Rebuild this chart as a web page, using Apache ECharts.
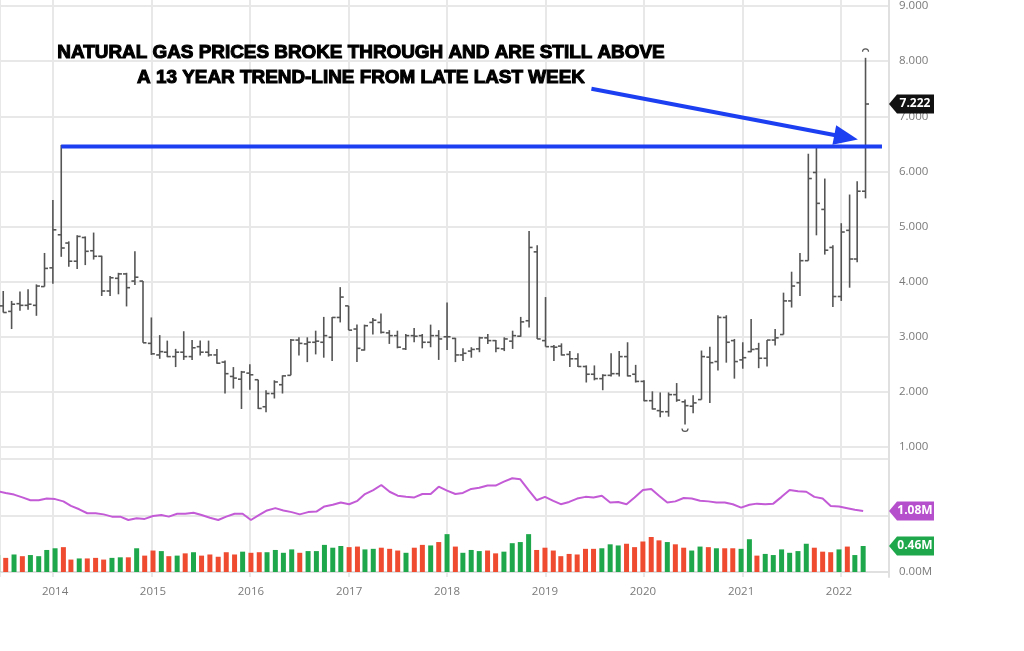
<!DOCTYPE html>
<html><head><meta charset="utf-8">
<script src="https://cdn.jsdelivr.net/npm/echarts@6/dist/echarts.min.js"></script>
<style>html,body{margin:0;padding:0;background:#fff}#c{width:1024px;height:651px}</style>
</head><body><div id="c"></div>
<script>
// ---- data (monthly, first month = June 2013) ----
const firstYear = 2013, firstMonthIndex = 5; // June
const open = [3.99,3.56,3.46,3.60,3.57,3.57,3.91,
 4.25,4.85,4.70,4.37,4.80,4.56,4.46,3.83,4.06,4.14,4.01,4.01,
 2.88,2.67,2.72,2.64,2.72,2.64,2.82,2.72,2.67,2.54,2.28,2.23,
 2.34,2.22,1.73,1.97,2.13,2.30,2.94,2.87,2.90,2.90,2.99,3.35,
 3.56,3.14,2.76,3.26,3.26,3.07,3.02,2.78,3.02,3.02,2.90,3.02,
 3.00,2.97,2.67,2.74,2.78,2.98,2.93,2.78,2.92,3.01,3.29,4.54,
 2.93,2.82,2.83,2.68,2.60,2.46,2.32,2.24,2.30,2.33,2.64,2.32,
 2.19,1.84,1.66,1.64,1.95,1.82,1.74,1.86,2.63,2.55,3.35,2.93,
 2.58,2.73,2.78,2.61,2.94,3.04,3.65,3.98,4.38,5.98,5.31,4.62,
 3.73,4.93,4.41,5.64];
const high = [4.05,3.83,3.65,3.82,3.86,3.95,4.52,
 5.48,6.48,4.73,4.84,4.82,4.89,4.47,4.10,4.16,4.16,4.55,4.01,
 3.35,3.03,2.93,2.78,3.10,2.94,2.93,2.93,2.78,2.57,2.45,2.38,
 2.50,2.22,2.03,2.21,2.30,2.96,2.99,2.99,3.11,3.36,3.36,3.90,
 3.56,3.22,3.22,3.34,3.42,3.12,3.11,3.05,3.16,3.05,3.22,3.12,
 3.62,2.98,2.79,2.81,3.00,3.05,2.94,2.99,3.11,3.36,4.92,4.66,
 3.72,2.85,2.88,2.74,2.70,2.48,2.48,2.32,2.70,2.74,2.90,2.49,
 2.21,2.01,1.99,1.99,2.16,1.86,1.94,2.75,2.82,3.39,3.39,2.96,
 2.90,3.32,2.89,2.94,3.14,3.80,4.18,4.52,6.32,6.47,5.87,4.66,
 5.06,5.58,5.82,8.06];
const low = [3.56,3.44,3.14,3.47,3.49,3.38,3.91,
 3.96,4.45,4.27,4.23,4.30,4.40,3.74,3.74,3.77,3.55,3.94,2.89,
 2.67,2.60,2.63,2.45,2.58,2.58,2.66,2.64,2.51,1.97,2.06,1.69,
 2.04,1.69,1.63,1.88,1.97,2.30,2.66,2.54,2.68,2.62,2.56,3.26,
 3.12,2.54,2.75,3.04,3.06,2.87,2.79,2.76,2.90,2.79,2.81,2.58,
 2.76,2.54,2.56,2.62,2.72,2.87,2.72,2.74,2.78,3.00,3.17,2.96,
 2.82,2.56,2.66,2.45,2.45,2.17,2.21,2.03,2.28,2.28,2.28,2.17,
 1.83,1.68,1.54,1.55,1.82,1.41,1.61,1.86,1.80,2.39,2.53,2.24,
 2.42,2.72,2.43,2.46,2.84,3.04,3.53,3.74,4.38,4.84,4.49,3.54,
 3.65,3.89,4.35,5.51];
const close = [3.57,3.44,3.59,3.57,3.59,3.92,4.24,
 4.94,4.61,4.37,4.82,4.55,4.46,3.83,4.07,4.14,3.89,4.08,2.89,
 2.69,2.73,2.64,2.72,2.64,2.80,2.72,2.67,2.52,2.33,2.25,2.36,
 2.31,1.70,1.97,2.18,2.29,2.94,2.88,2.90,2.92,3.02,3.35,3.72,
 3.12,2.79,3.20,3.30,3.08,3.02,2.81,3.02,3.01,2.90,3.02,2.96,
 3.00,2.67,2.70,2.77,2.98,2.93,2.79,2.96,3.02,3.27,4.62,2.96,
 2.82,2.81,2.67,2.60,2.46,2.32,2.24,2.30,2.33,2.64,2.29,2.19,
 1.84,1.69,1.64,1.95,1.85,1.75,1.80,2.64,2.53,3.35,2.90,2.55,
 2.62,2.77,2.61,2.94,2.98,3.65,3.92,4.38,5.87,5.42,4.57,3.73,
 4.90,4.41,5.64,7.222];
const volumeM = [0.30,0.25,0.31,0.28,0.30,0.28,0.39,
 0.42,0.44,0.22,0.24,0.24,0.25,0.22,0.25,0.26,0.26,0.42,0.29,
 0.38,0.37,0.28,0.29,0.33,0.35,0.29,0.31,0.27,0.35,0.31,0.36,
 0.34,0.35,0.35,0.39,0.34,0.40,0.34,0.37,0.37,0.48,0.43,0.46,
 0.44,0.45,0.40,0.41,0.43,0.41,0.38,0.34,0.43,0.48,0.47,0.53,
 0.67,0.45,0.34,0.39,0.37,0.38,0.33,0.36,0.51,0.53,0.67,0.39,
 0.43,0.38,0.28,0.32,0.31,0.41,0.41,0.42,0.49,0.47,0.50,0.44,
 0.54,0.62,0.56,0.53,0.49,0.43,0.38,0.45,0.44,0.42,0.42,0.42,
 0.41,0.58,0.29,0.32,0.30,0.40,0.34,0.37,0.50,0.43,0.36,0.35,
 0.40,0.45,0.30,0.46];
const openInterestM = [1.43,1.40,1.37,1.32,1.27,1.27,1.30,
 1.29,1.25,1.17,1.11,1.04,1.04,1.02,0.98,0.98,0.92,0.95,0.94,
 0.99,1.01,0.98,1.03,1.03,1.05,1.01,0.96,0.92,0.98,1.03,1.03,
 0.92,1.01,1.09,1.13,1.09,1.06,1.02,1.06,1.07,1.16,1.19,1.23,
 1.20,1.26,1.38,1.45,1.54,1.42,1.35,1.33,1.32,1.38,1.38,1.51,
 1.44,1.38,1.40,1.47,1.49,1.53,1.53,1.60,1.66,1.64,1.45,1.27,
 1.33,1.26,1.20,1.24,1.30,1.33,1.32,1.35,1.23,1.24,1.20,1.32,
 1.45,1.47,1.35,1.23,1.25,1.31,1.30,1.26,1.25,1.23,1.23,1.20,
 1.14,1.19,1.21,1.20,1.21,1.33,1.45,1.43,1.42,1.33,1.30,1.17,
 1.16,1.13,1.10,1.08];
const priceTicks = {min: 1, max: 9, step: 1};
const volumeTicks = {min: 0, max: 2, step: 1};
const trendLevel = 6.45;
const trendStart = [2014, 1, 1], trendEnd = [2022, 5, 1];
const arrowFrom = [[2019, 5, 20], 7.50], arrowTo = [[2022, 0, 19], 6.62];
const noteLines = ['NATURAL GAS PRICES BROKE THROUGH AND ARE STILL ABOVE', 'A 13 YEAR TREND-LINE FROM LATE LAST WEEK'];
const viewStart = [2013, 5, 19], viewEnd = [2022, 5, 27];

// ---- build ----
const d = a => new Date(a[0], a[1], a[2]).getTime();
const times = open.map((_, i) => new Date(firstYear, firstMonthIndex + i, 1).getTime());
const ohlc = times.map((t, i) => [t, open[i], high[i], low[i], close[i]]);
const GREEN = '#1ea84b', RED = '#ef4b31', PURPLE = '#c35bd6', BLUE = '#1d3ff2';
const vol = times.map((t, i) => ({value: [t, volumeM[i]], itemStyle: {color: (i === 0 || close[i] >= close[i-1]) ? GREEN : RED}}));
const oi = times.map((t, i) => [t, openInterestM[i]]);
let maxIdx = 0, minIdx = 0;
high.forEach((v, i) => { if (v > high[maxIdx]) maxIdx = i; });
low.forEach((v, i) => { if (v < low[minIdx]) minIdx = i; });

const xMin = d(viewStart), xMax = d(viewEnd);
const YEAR = 365.25 * 86400000;
const gridLine = {show: true, lineStyle: {color: '#e8e8e8', width: 2}};
const lblFont = {color: '#7a7a7a', fontFamily: 'Open Sans', fontSize: 11.5};
const baseX = {type: 'time', min: xMin, max: xMax, minInterval: YEAR * 0.99, maxInterval: YEAR * 1.01};

const chart = echarts.init(document.getElementById('c'), null, {renderer: 'canvas'});
chart.setOption({
  animation: false,
  grid: [
    {left: 0, right: 135, top: 0, bottom: 74},
    {left: 0, right: 135, top: 3, bottom: 204},
    {left: 0, right: 135, top: 459, bottom: 79}
  ],
  xAxis: [
    Object.assign({}, baseX, {gridIndex: 0, axisLine: {show: false}, axisTick: {show: false}, axisLabel: {show: false}, splitLine: gridLine}),
    Object.assign({}, baseX, {gridIndex: 1, show: false}),
    Object.assign({}, baseX, {gridIndex: 2, offset: 5, axisLine: {show: true, lineStyle: {color: '#e0e0e0', width: 2}}, axisTick: {show: false}, splitLine: {show: false},
      axisLabel: Object.assign({formatter: '{yyyy}', margin: 9, showMinLabel: false, showMaxLabel: false}, lblFont)})
  ],
  yAxis: [
    {gridIndex: 0, type: 'value', min: 0, max: 1, position: 'right', axisLine: {show: true, lineStyle: {color: '#e0e0e0', width: 2}}, axisTick: {show: false}, axisLabel: {show: false}, splitLine: {show: false}},
    {gridIndex: 1, type: 'value', min: priceTicks.min, max: priceTicks.max, interval: priceTicks.step, position: 'right', axisLine: {show: false}, axisTick: {show: false},
      axisLabel: Object.assign({margin: 10, formatter: v => v.toFixed(3)}, lblFont), splitLine: gridLine},
    {gridIndex: 2, type: 'value', min: volumeTicks.min, max: volumeTicks.max, interval: volumeTicks.step, position: 'right', axisLine: {show: false}, axisTick: {show: false},
      axisLabel: Object.assign({margin: 10, formatter: v => v === 0 ? '0.00M' : ''}, lblFont), splitLine: gridLine}
  ],
  series: [
    {
      type: 'custom', xAxisIndex: 1, yAxisIndex: 1, clip: true, data: ohlc,
      encode: {x: 0, y: [1, 2, 3, 4]},
      renderItem: function (params, api) {
        const t = api.value(0);
        const pO = api.coord([t, api.value(1)]), pH = api.coord([t, api.value(2)]);
        const pL = api.coord([t, api.value(3)]), pC = api.coord([t, api.value(4)]);
        const x = pH[0];
        const st = {stroke: '#555', lineWidth: 1.6};
        const ch = [
          {type: 'line', shape: {x1: x, y1: pH[1], x2: x, y2: pL[1]}, style: st},
          {type: 'line', shape: {x1: x - 3.5, y1: pO[1], x2: x, y2: pO[1]}, style: st},
          {type: 'line', shape: {x1: x, y1: pC[1], x2: x + 3.5, y2: pC[1]}, style: st}
        ];
        if (params.dataIndex === maxIdx) ch.push({type: 'arc', shape: {cx: x, cy: pH[1] - 6, r: 3, startAngle: Math.PI, endAngle: 2 * Math.PI}, style: {stroke: '#555', fill: null, lineWidth: 1.2}});
        if (params.dataIndex === minIdx) ch.push({type: 'arc', shape: {cx: x, cy: pL[1] + 4, r: 3, startAngle: 0, endAngle: Math.PI}, style: {stroke: '#555', fill: null, lineWidth: 1.2}});
        return {type: 'group', children: ch};
      },
      z: 3
    },
    {
      type: 'line', xAxisIndex: 1, yAxisIndex: 1, data: [[d(trendStart), trendLevel], [d(trendEnd), trendLevel]],
      showSymbol: false, symbol: 'none', lineStyle: {color: BLUE, width: 4}, z: 5, silent: true,
      markLine: {
        silent: true, animation: false, symbol: ['none', 'triangle'], symbolSize: [20, 24],
        lineStyle: {color: BLUE, width: 4, type: 'solid'}, label: {show: false},
        data: [[{coord: [d(arrowFrom[0]), arrowFrom[1]]}, {coord: [d(arrowTo[0]), arrowTo[1]]}]]
      }
    },
    {type: 'bar', xAxisIndex: 2, yAxisIndex: 2, data: vol, barWidth: 5, z: 2},
    {type: 'line', xAxisIndex: 2, yAxisIndex: 2, data: oi, showSymbol: false, symbol: 'none', lineStyle: {color: PURPLE, width: 2}, itemStyle: {color: PURPLE}, z: 3}
  ],
  graphic: noteLines.map((txt, i) => ({
    id: 'note' + i, type: 'text', x: 361, y: 53 + i * 24.5, z: 100,
    style: {text: txt, fill: '#000', font: 'bold 18.9px "Liberation Sans", Arial, sans-serif', align: 'center', verticalAlign: 'middle', stroke: '#000', lineWidth: 1.1}
  }))
});

function tag(id, yVal, axisIdx, text, color) {
  const y = chart.convertToPixel({yAxisIndex: axisIdx}, yVal);
  const x0 = chart.convertToPixel({xAxisIndex: 1}, xMax);
  const h = 9.5;
  return [
    {id: id + 'b', type: 'polygon', z: 100, shape: {points: [[x0, y], [x0 + 8, y - h], [x0 + 45, y - h], [x0 + 45, y + h], [x0 + 8, y + h]]}, style: {fill: color}},
    {id: id + 't', type: 'text', z: 101, x: x0 + 26, y: y, style: {text: text, fill: '#fff', font: 'bold 12px "Open Sans", sans-serif', align: 'center', verticalAlign: 'middle'}}
  ];
}
const last = close.length - 1;
chart.setOption({graphic: [].concat(
  tag('px', close[last], 1, close[last].toFixed(3), '#111'),
  tag('oi', openInterestM[last], 2, openInterestM[last].toFixed(2) + 'M', '#b64fcc'),
  tag('vo', volumeM[last], 2, volumeM[last].toFixed(2) + 'M', GREEN)
)});
</script></body></html>
